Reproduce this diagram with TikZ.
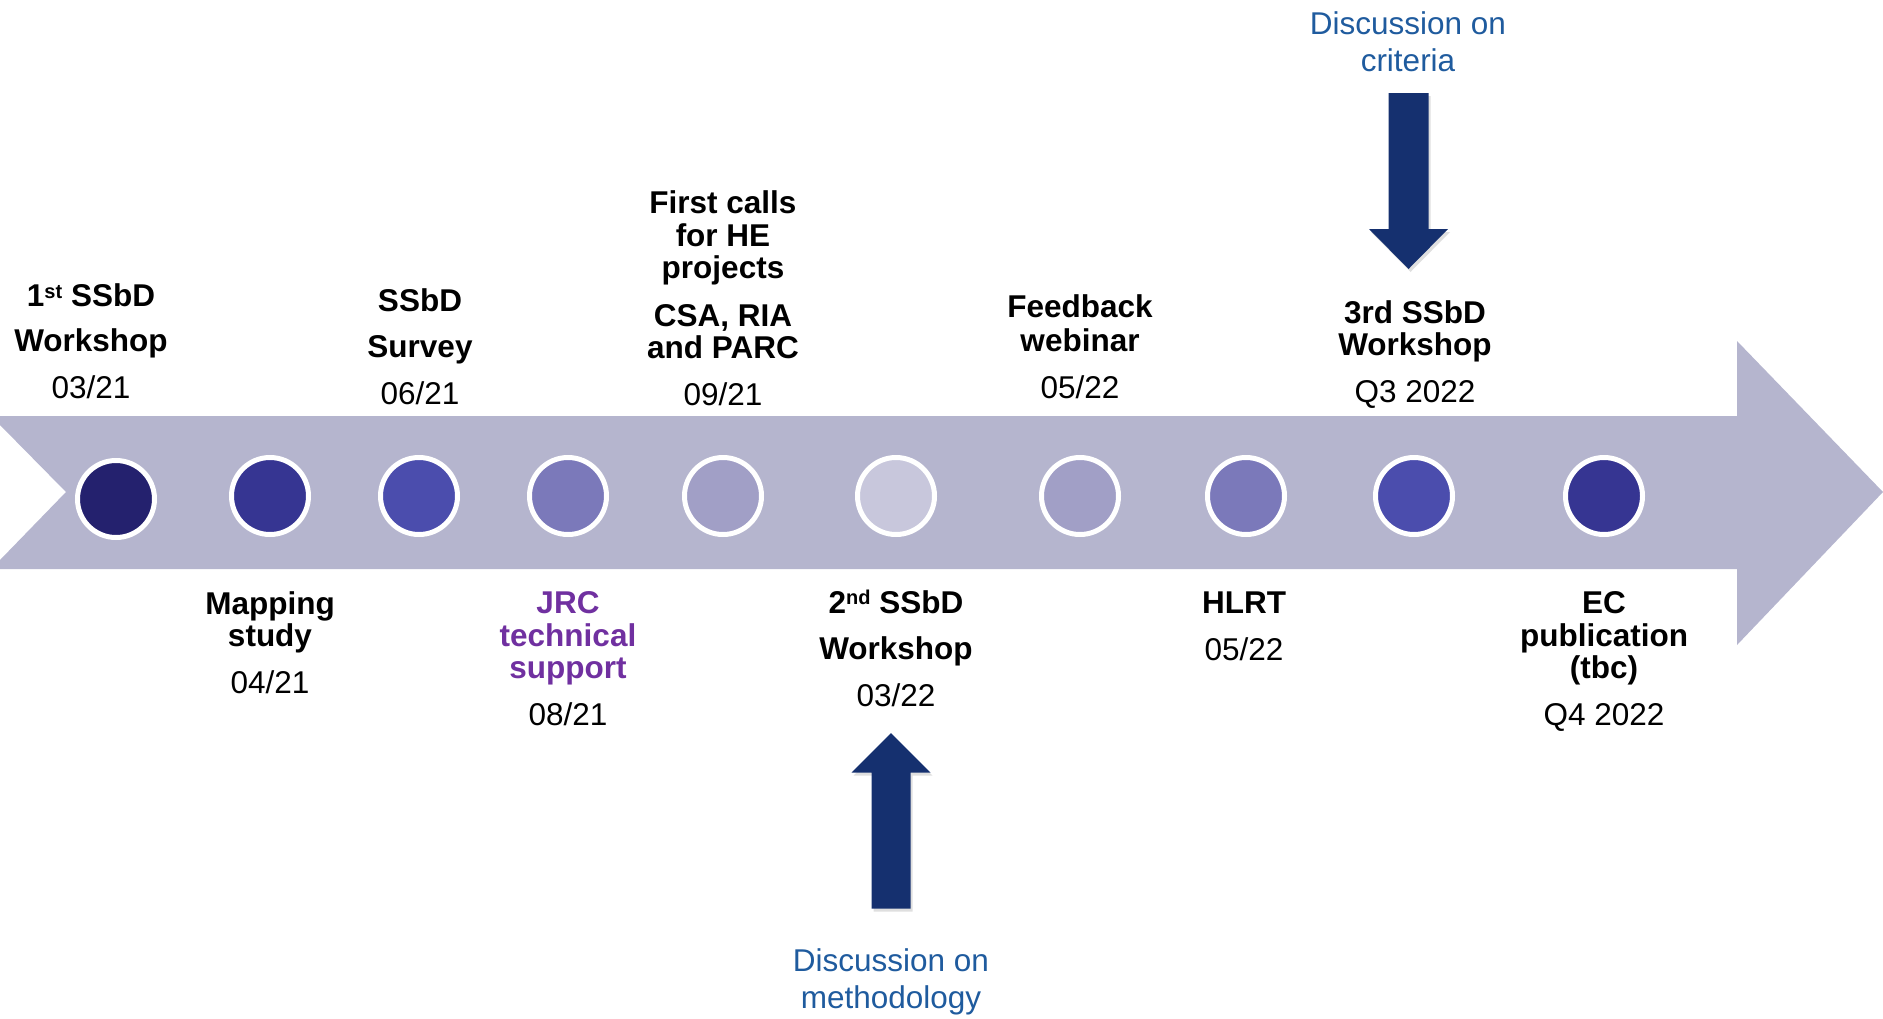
\documentclass[tikz,border=0pt]{standalone}
\usepackage{fontspec}
\setmainfont{Liberation Sans}
\usepackage{xcolor}
\usepackage{tikz}
\usetikzlibrary{positioning, calc, shadows}
\definecolor{bandgrey}{RGB}{181,181,206}
\definecolor{arrowblue}{RGB}{21,48,111}
\definecolor{noteblue}{RGB}{31,91,158}
\definecolor{jrcpurple}{RGB}{112,48,160}
\definecolor{dotA}{RGB}{36,33,110}
\definecolor{dotB}{RGB}{54,53,146}
\definecolor{dotC}{RGB}{75,77,173}
\definecolor{dotD}{RGB}{123,121,186}
\definecolor{dotE}{RGB}{161,159,198}
\definecolor{dotF}{RGB}{200,199,220}
\tikzset{
    milestone/.style={
        circle, draw=white, line width=5pt, minimum size=77pt, inner sep=0pt
    },
    eventlabel/.style={
        align=center, inner sep=0pt, anchor=base,
        font=\fontsize{31.5}{32.5}\selectfont\bfseries
    },
    notelabel/.style={
        align=center, inner sep=0pt, anchor=base, text=noteblue,
        font=\fontsize{31.5}{37}\selectfont
    },
    blockarrow/.style={
        fill=arrowblue, drop shadow={shadow xshift=2pt, shadow yshift=-3pt, opacity=0.25}
    }
}
\newcommand{\datetxt}[1]{\\[14pt]{\mdseries\color{black}#1}}
\newcommand{\ordsup}[1]{\raisebox{8.5pt}{\fontsize{20}{20}\selectfont #1}}

\begin{document}
\begin{tikzpicture}[x=1pt, y=-1pt]
    % --- canvas ---
    \useasboundingbox (0,0) rectangle (1883,1018);

    % --- timeline band (notched tail, arrow head) ---
    \fill[bandgrey] (0,416) -- (1737,416) -- (1737,341) -- (1883,492)
        -- (1737,645) -- (1737,569) -- (0,569) -- (0,560) -- (66,492)
        -- (0,425) -- cycle;

    % --- milestones ---
    \node[milestone, fill=dotA] (m1) at (116,499) {};
    \node[milestone, fill=dotB] (m2) at (270,496) {};
    \node[milestone, fill=dotC] (m3) at (419,496) {};
    \node[milestone, fill=dotD] (m4) at (568,496) {};
    \node[milestone, fill=dotE] (m5) at (723,496) {};
    \node[milestone, fill=dotF] (m6) at (896,496) {};
    \node[milestone, fill=dotE] (m7) at (1080,496) {};
    \node[milestone, fill=dotD] (m8) at (1246,496) {};
    \node[milestone, fill=dotC] (m9) at (1414,496) {};
    \node[milestone, fill=dotB] (m10) at (1604,496) {};

    % --- labels above the band (placed at the date line) ---
    \node[eventlabel] (l1) at (91,398) {1\ordsup{st} SSbD\\[12.5pt]Workshop\datetxt{03/21}};
    \node[eventlabel] (l3) at (420,404) {SSbD\\[13.5pt]Survey\datetxt{06/21}};
    \node[eventlabel] (l5) at (723,405) {First calls\\for HE\\projects\\[15pt]CSA, RIA\\and PARC\datetxt{09/21}};
    \node[eventlabel] (l7) at (1080,398) {Feedback\\[1.5pt]webinar\datetxt{05/22}};
    \node[eventlabel] (l9) at (1415,402) {3rd SSbD\\Workshop\datetxt{Q3 2022}};

    % --- labels below the band ---
    \node[eventlabel] (l2) at (270,693) {Mapping\\study\datetxt{04/21}};
    \node[eventlabel, text=jrcpurple] (l4) at (568,725) {JRC\\technical\\support\datetxt{08/21}};
    \node[eventlabel] (l6) at (896,706) {2\ordsup{nd} SSbD\\[14pt]Workshop\datetxt{03/22}};
    \node[eventlabel] (l8) at (1244,660) {HLRT\datetxt{05/22}};
    \node[eventlabel] (l10) at (1604,725) {EC\\publication\\(tbc)\datetxt{Q4 2022}};

    % --- discussion notes and block arrows ---
    \node[notelabel] (n1) at (1408,71) {Discussion on\\criteria};
    \node[notelabel] (n2) at (891,1008) {Discussion on\\methodology};

    \coordinate (dtip) at (1408.5,269);
    \fill[blockarrow] (dtip) -- ++(-39.5,-40) -- ++(19.5,0) -- ++(0,-136)
        -- ++(40,0) -- ++(0,136) -- ++(19.5,0) -- cycle;
    \coordinate (utip) at (891,733);
    \fill[blockarrow] (utip) -- ++(-39.5,39.5) -- ++(20,0) -- ++(0,136)
        -- ++(39,0) -- ++(0,-136) -- ++(20,0) -- cycle;
\end{tikzpicture}
\end{document}
